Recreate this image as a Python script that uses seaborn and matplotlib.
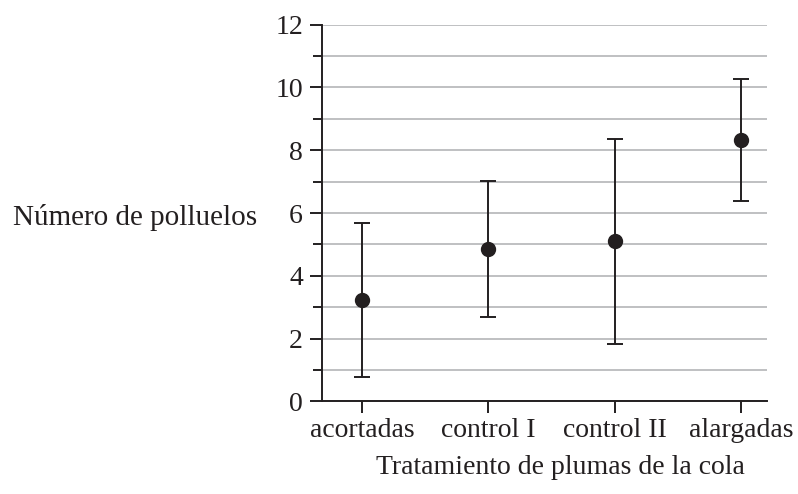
import numpy as np
import pandas as pd
import matplotlib
matplotlib.use("Agg")
import matplotlib.pyplot as plt
import seaborn as sns
from matplotlib.ticker import MultipleLocator

# ===== datos =====
tratamientos = ["acortadas", "control I", "control II", "alargadas"]
medias = [3.22, 4.86, 5.10, 8.33]
desv = [2.45, 2.17, 3.26, 1.93]

df = pd.DataFrame({"tratamiento": tratamientos, "media": medias, "desv": desv})

# ===== estilo =====
sns.set_style("ticks")
plt.rcParams["font.family"] = ["Liberation Serif", "DejaVu Serif"]
ink = "#231f20"

fig = plt.figure(figsize=(7.98, 4.94), dpi=100)
ax = fig.add_axes([0.4035, 0.1873, 0.5575, 0.7627])

# barras de error
ax.errorbar(np.arange(len(df)), df["media"], yerr=df["desv"], fmt="none",
            ecolor=ink, elinewidth=1.4, capsize=6, capthick=1.4, zorder=3)
# puntos (media)
sns.pointplot(data=df, x="tratamiento", y="media", order=tratamientos,
              linestyle="none", errorbar=None, color=ink, markers="o",
              markersize=9, ax=ax, zorder=4)

ax.set_xlim(-0.317, 3.206)
ax.set_ylim(0, 12)
ax.yaxis.set_major_locator(MultipleLocator(2))
ax.yaxis.set_minor_locator(MultipleLocator(1))
ax.grid(axis="y", which="both", color="#bfc0c2", linewidth=1.4, zorder=0)
ax.set_axisbelow(True)

for s in ["top", "right"]:
    ax.spines[s].set_visible(False)
for s in ["left", "bottom"]:
    ax.spines[s].set_color(ink)
    ax.spines[s].set_linewidth(1.4)

ax.tick_params(axis="y", which="major", length=8.6, width=1.4, color=ink,
               labelsize=20, labelcolor=ink, pad=5)
ax.tick_params(axis="y", which="minor", length=6.5, width=1.4, color=ink)
ax.tick_params(axis="x", length=8.6, width=1.4, color=ink,
               labelsize=20, labelcolor=ink, pad=3.5)

ax.set_ylabel("Número de polluelos", rotation=0, ha="right", va="baseline",
              fontsize=21, color=ink)
ax.yaxis.set_label_coords(-0.146, 0.469)
ax.set_xlabel("Tratamiento de plumas de la cola", ha="center", va="baseline",
              fontsize=20, color=ink)
ax.xaxis.set_label_coords(0.535, -0.193)

plt.savefig("out.png", dpi=100)
